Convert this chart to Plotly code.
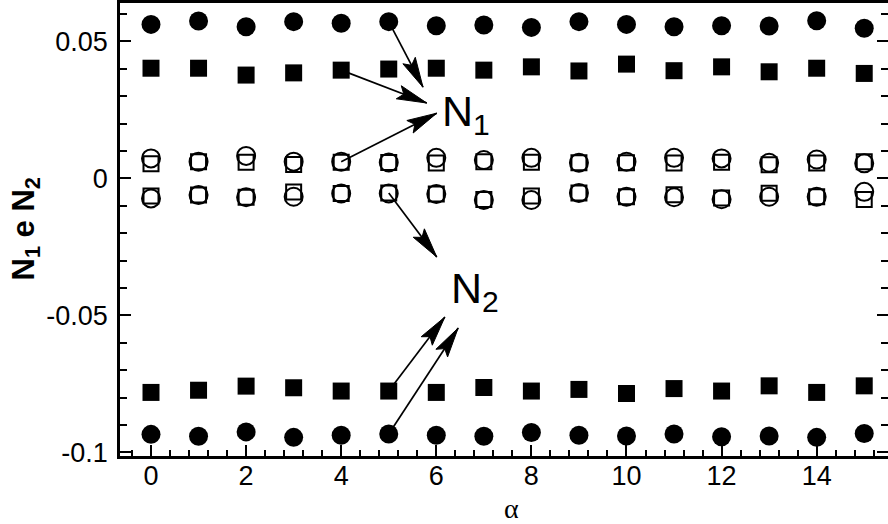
"""Recreate the N1 / N2 scatter chart versus alpha."""

import math
import plotly.graph_objects as go


WIDTH, HEIGHT = 888, 524
MARGIN = dict(l=120, r=0, t=3, b=68)
X_RANGE = [-0.652, 15.5]
Y_RANGE = [-0.1013, 0.064]
FONT = "Liberation Sans, Arial, Helvetica, sans-serif"

alpha = list(range(16))

# N1 (upper group)
n1_circ_fill = [0.0562, 0.0574, 0.0553, 0.0572, 0.0566, 0.0572, 0.0557, 0.0560,
                0.0551, 0.0572, 0.0562, 0.0553, 0.0557, 0.0556, 0.0575, 0.0548]
n1_sq_fill = [0.0402, 0.0402, 0.0377, 0.0385, 0.0395, 0.0399, 0.0402, 0.0395,
              0.0407, 0.0392, 0.0417, 0.0393, 0.0407, 0.0389, 0.0402, 0.0383]
n1_circ_open = [0.0073, 0.0061, 0.0082, 0.0061, 0.0061, 0.0058, 0.0075, 0.0067,
                0.0075, 0.0057, 0.0061, 0.0075, 0.0073, 0.0057, 0.0069, 0.0055]
n1_sq_open = [0.0053, 0.0061, 0.0059, 0.0051, 0.0059, 0.0058, 0.0056, 0.0061,
              0.0059, 0.0057, 0.0057, 0.0056, 0.0059, 0.0050, 0.0056, 0.0061]

# N2 (lower group)
n2_circ_open = [-0.0073, -0.0061, -0.0069, -0.0067, -0.0055, -0.0055, -0.0057, -0.0079,
                -0.0079, -0.0053, -0.0067, -0.0069, -0.0076, -0.0067, -0.0067, -0.0049]
n2_sq_open = [-0.0064, -0.0061, -0.0069, -0.0050, -0.0055, -0.0053, -0.0057, -0.0077,
              -0.0064, -0.0053, -0.0067, -0.0060, -0.0072, -0.0054, -0.0067, -0.0077]
n2_sq_fill = [-0.0781, -0.0773, -0.0758, -0.0764, -0.0776, -0.0776, -0.0781, -0.0763,
              -0.0776, -0.0770, -0.0785, -0.0767, -0.0776, -0.0757, -0.0781, -0.0757]
n2_circ_fill = [-0.0934, -0.0941, -0.0925, -0.0945, -0.0937, -0.0933, -0.0937, -0.0941,
                -0.0927, -0.0937, -0.0940, -0.0933, -0.0943, -0.0940, -0.0945, -0.0931]

y_tickvals = [-0.1, -0.05, 0, 0.05]
y_ticktext = ["-0.1", "-0.05", "0", "0.05"]

# pixels per data unit, used to orient the arrow heads
KX = (WIDTH - MARGIN["l"] - MARGIN["r"]) / (X_RANGE[1] - X_RANGE[0])
KY = (HEIGHT - MARGIN["t"] - MARGIN["b"]) / (Y_RANGE[1] - Y_RANGE[0])


def add_arrow(fig, x0, y0, x1, y1, length=30, half_width=7):
    """Straight line with a long, narrow filled head at (x1, y1)."""
    fig.add_shape(type="line", x0=x0, y0=y0, x1=x1, y1=y1,
                  line=dict(color="black", width=1.7))
    dx, dy = (x1 - x0) * KX, (y1 - y0) * KY
    d = math.hypot(dx, dy)
    ux, uy = dx / d, dy / d
    nx, ny = -uy, ux
    pts = [(0, 0),
           (-length * ux + half_width * nx, -length * uy + half_width * ny),
           (-0.82 * length * ux, -0.82 * length * uy),
           (-length * ux - half_width * nx, -length * uy - half_width * ny)]
    path = "M" + " L".join(f"{px:.2f},{py:.2f}" for px, py in pts) + " Z"
    fig.add_shape(type="path", path=path, xsizemode="pixel", ysizemode="pixel",
                  xanchor=x1, yanchor=y1, fillcolor="black",
                  line=dict(color="black", width=1))


def main():
    fig = go.Figure()

    filled_circle = dict(symbol="circle", size=19, color="black")
    filled_square = dict(symbol="square", size=17, color="black")
    open_circle = dict(symbol="circle-open", size=18, color="black",
                       line=dict(width=2, color="black"))
    open_square = dict(symbol="square-open", size=15, color="black",
                       line=dict(width=2, color="black"))

    for ys, marker in [(n1_circ_fill, filled_circle), (n1_sq_fill, filled_square),
                       (n1_circ_open, open_circle), (n1_sq_open, open_square),
                       (n2_circ_open, open_circle), (n2_sq_open, open_square),
                       (n2_sq_fill, filled_square), (n2_circ_fill, filled_circle)]:
        fig.add_trace(go.Scatter(x=alpha, y=ys, mode="markers", marker=marker,
                                 showlegend=False, hoverinfo="skip"))

    # arrows pointing at the N1 label
    add_arrow(fig, alpha[5], n1_circ_fill[5], 5.72, 0.0333)
    add_arrow(fig, alpha[4], n1_sq_fill[4], 5.80, 0.0275)
    add_arrow(fig, alpha[4], n1_circ_open[4], 6.01, 0.0238)
    # arrows pointing at the N2 label
    add_arrow(fig, alpha[5], n2_sq_open[5], 6.01, -0.0287)
    add_arrow(fig, alpha[5], n2_sq_fill[5], 6.18, -0.0506)
    add_arrow(fig, alpha[5], n2_circ_fill[5], 6.46, -0.0546)

    fig.add_annotation(x=6.08, y=0.0236, text="N<sub>1</sub>", showarrow=False,
                       xanchor="left", yanchor="middle",
                       font=dict(family=FONT, size=43, color="black"))
    fig.add_annotation(x=6.27, y=-0.0410, text="N<sub>2</sub>", showarrow=False,
                       xanchor="left", yanchor="middle",
                       font=dict(family=FONT, size=43, color="black"))

    # axis titles placed by hand so the plot area keeps its margins
    fig.add_annotation(xref="paper", yref="paper", x=0, y=0.5, xshift=-95,
                       text="<b>N<sub>1</sub> e N<sub>2</sub></b>", textangle=-90,
                       showarrow=False, xanchor="center", yanchor="middle",
                       font=dict(family=FONT, size=31, color="black"))
    fig.add_annotation(xref="paper", yref="paper", x=0.5, y=0, xshift=7,
                       yshift=-52, text="\u03b1", showarrow=False,
                       xanchor="center", yanchor="middle",
                       font=dict(family="Liberation Serif, serif", size=28,
                                 color="black"))

    axis_common = dict(showline=True, linewidth=2.5, linecolor="black",
                       showgrid=False, zeroline=False, ticks="inside",
                       tickcolor="black", tickwidth=2, ticklen=11,
                       automargin=False,
                       tickfont=dict(family=FONT, size=27, color="black"))

    fig.update_xaxes(**axis_common, range=X_RANGE, mirror=True,
                     tick0=0, dtick=2, ticklabelstandoff=-6,
                     minor=dict(ticks="inside", tick0=0, dtick=0.4, ticklen=6,
                                tickwidth=1.5, tickcolor="black"))
    fig.update_yaxes(**axis_common, range=Y_RANGE, mirror="ticks",
                     tickvals=y_tickvals, ticktext=y_ticktext,
                     ticklabelstandoff=4,
                     minor=dict(ticks="inside", tick0=0, dtick=0.01, ticklen=7,
                                tickwidth=1.5, tickcolor="black"))

    fig.update_layout(width=WIDTH, height=HEIGHT, margin=MARGIN,
                      plot_bgcolor="white", paper_bgcolor="white",
                      showlegend=False)

    # drop the browser's default body margin so the figure sits at (0, 0)
    fig.write_html("out.html", config={"displayModeBar": False},
                   post_script="document.body.style.margin = '0';")


if __name__ == "__main__":
    main()
